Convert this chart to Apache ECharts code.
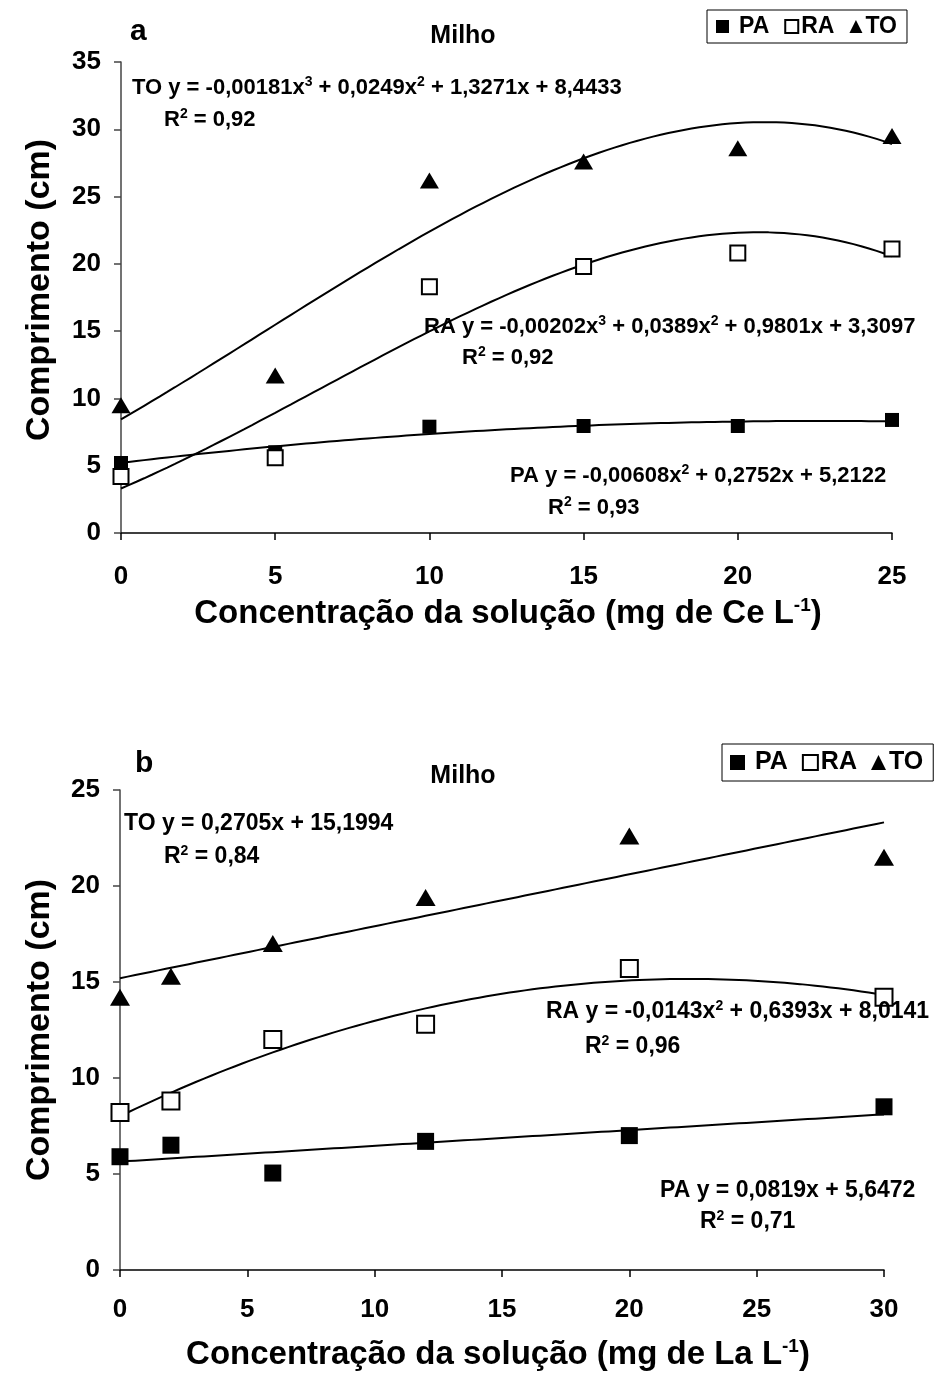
<!DOCTYPE html>
<html>
<head>
<meta charset="utf-8">
<script src="https://cdn.jsdelivr.net/npm/echarts@6/dist/echarts.min.js"></script>
<style>html,body{margin:0;padding:0;background:#fff}#c{width:938px;height:1376px}</style>
</head>
<body>
<div id="c"></div>
<script>
// ---- Panel a: Ce ----
const ceX = [0, 5, 10, 15, 20, 25];
const cePA = [5.2, 6.0, 7.9, 7.95, 7.95, 8.4];
const ceRA = [4.2, 5.6, 18.3, 19.8, 20.8, 21.1];
const ceTO = [9.5, 11.7, 26.2, 27.6, 28.6, 29.5];
// trendline coefficients (c0, c1, c2, c3) as printed on the chart
const ceTrendPA = [5.2122, 0.2752, -0.00608];
const ceTrendRA = [3.3097, 0.9801, 0.0389, -0.00202];
const ceTrendTO = [8.4433, 1.3271, 0.0249, -0.00181];
const ceYTicks = [0, 5, 10, 15, 20, 25, 30, 35];
const ceXTicks = [0, 5, 10, 15, 20, 25];

// ---- Panel b: La ----
const laX = [0, 2, 6, 12, 20, 30];
const laPA = [5.9, 6.5, 5.05, 6.7, 7.0, 8.5];
const laRA = [8.2, 8.8, 12.0, 12.8, 15.7, 14.2];
const laTO = [14.2, 15.3, 17.0, 19.4, 22.6, 21.5];
const laTrendPA = [5.6472, 0.0819];
const laTrendRA = [8.0141, 0.6393, -0.0143];
const laTrendTO = [15.1994, 0.2705];
const laYTicks = [0, 5, 10, 15, 20, 25];
const laXTicks = [0, 5, 10, 15, 20, 25, 30];

function poly(c, x) { let s = 0; for (let i = 0; i < c.length; i++) s += c[i] * Math.pow(x, i); return s; }
function curve(c, x0, x1) { const pts = []; const n = 100; for (let i = 0; i <= n; i++) { const x = x0 + (x1 - x0) * i / n; pts.push([x, poly(c, x)]); } return pts; }
function pairs(xs, ys) { return xs.map((x, i) => [x, ys[i]]); }

const FONT = '"Liberation Sans", Arial, sans-serif';
const rich = {
  a: { fontFamily: FONT, fontWeight: 'bold', fontSize: 22, color: '#000' },
  s: { fontFamily: FONT, fontWeight: 'bold', fontSize: 14, color: '#000', padding: [0, 0, 11, 0] },
  b: { fontFamily: FONT, fontWeight: 'bold', fontSize: 23, color: '#000' },
  bs: { fontFamily: FONT, fontWeight: 'bold', fontSize: 14, color: '#000', padding: [0, 0, 12, 0] },
  n: { fontFamily: FONT, fontWeight: 'bold', fontSize: 33, color: '#000' },
  ns: { fontFamily: FONT, fontWeight: 'bold', fontSize: 19, color: '#000', padding: [0, 0, 16, 0] }
};
function plain(x, y, text, size, align) {
  return { type: 'text', x: x, y: y, style: { text: text, fontFamily: FONT, fontWeight: 'bold', fontSize: size, fill: '#000', align: align || 'left', verticalAlign: 'middle' }, z: 100 };
}
function rtxt(x, y, text, align) {
  return { type: 'text', x: x, y: y, style: { text: text, rich: rich, align: align || 'left', verticalAlign: 'middle' }, z: 100 };
}
function vtitle(x, y, text) {
  return { type: 'text', x: x, y: y, rotation: Math.PI / 2, style: { text: text, fontFamily: FONT, fontWeight: 'bold', fontSize: 34, fill: '#000', align: 'center', verticalAlign: 'middle' }, z: 100 };
}

const axisLabelStyle = { fontFamily: FONT, fontWeight: 'bold', fontSize: 26, color: '#000' };
function xAxis(gi, max, ticks, margin) {
  return { type: 'value', gridIndex: gi, min: 0, max: max, interval: 5,
    axisLine: { show: true, onZero: false, lineStyle: { color: '#000', width: 1.5 } },
    axisTick: { show: true, inside: false, length: 7, lineStyle: { color: '#000', width: 1.5 } },
    axisLabel: Object.assign({ margin: margin, formatter: v => ticks.includes(v) ? String(v) : '' }, axisLabelStyle),
    splitLine: { show: false } };
}
function yAxis(gi, max, ticks) {
  return { type: 'value', gridIndex: gi, min: 0, max: max, interval: 5,
    axisLine: { show: true, onZero: false, lineStyle: { color: '#444', width: 1.5 } },
    axisTick: { show: true, inside: false, length: 7, lineStyle: { color: '#444', width: 1.5 } },
    axisLabel: Object.assign({ margin: 20, formatter: v => ticks.includes(v) ? String(v) : '' }, axisLabelStyle),
    splitLine: { show: false } };
}

function scatter(name, gi, data, kind, size) {
  const s = { type: 'scatter', name: name, xAxisIndex: gi, yAxisIndex: gi, data: data, symbolSize: size, z: 10 };
  if (kind === 'PA') { s.symbol = 'rect'; s.itemStyle = { color: '#000', opacity: 1 }; }
  if (kind === 'RA') { s.symbol = 'rect'; s.itemStyle = { color: '#fff', borderColor: '#000', borderWidth: 2, opacity: 1 }; s.symbolSize = size - 2; }
  if (kind === 'TO') { s.symbol = 'triangle'; s.itemStyle = { color: '#000', opacity: 1 }; s.symbolSize = [size + 3, size]; }
  return s;
}
function trend(gi, data) {
  return { type: 'line', xAxisIndex: gi, yAxisIndex: gi, data: data, showSymbol: false, symbol: 'none', smooth: false,
    lineStyle: { color: '#000', width: 2 }, z: 5, silent: true };
}

function legend(left, top, fs, icon, gap, pad) {
  return {
    orient: 'horizontal', left: left, top: top, borderColor: '#000', borderWidth: 1, padding: pad, itemGap: gap,
    itemWidth: icon, itemHeight: icon, backgroundColor: '#fff',
    formatter: n => n === 'PA' ? '{p|PA}' : '{q|' + n + '}',
    textStyle: { fontFamily: FONT, fontWeight: 'bold', fontSize: fs, color: '#000',
      rich: { p: { fontFamily: FONT, fontWeight: 'bold', fontSize: fs, color: '#000', padding: [0, 0, 0, 5] },
              q: { fontFamily: FONT, fontWeight: 'bold', fontSize: fs, color: '#000', padding: [0, 0, 0, -2] } } },
    data: [
      { name: 'PA', icon: 'rect' },
      { name: 'RA', icon: 'rect' },
      { name: 'TO', icon: 'triangle' }
    ]
  };
}

const chart = echarts.init(document.getElementById('c'), null, { renderer: 'canvas' });
chart.setOption({
  animation: false,
  backgroundColor: '#fff',
  grid: [
    { left: 121, top: 62, width: 771, height: 471 },
    { left: 120, top: 790, width: 764, height: 480 }
  ],
  xAxis: [xAxis(0, 25, ceXTicks, 31), xAxis(1, 30, laXTicks, 27)],
  yAxis: [yAxis(0, 35, ceYTicks), yAxis(1, 25, laYTicks)],
  legend: [
    legend(707, 10, 23, 13, 15, [5, 10, 5, 9]),
    legend(722, 744, 25, 15, 14, [6, 10, 6, 8])
  ],
  series: [
    trend(0, curve(ceTrendPA, 0, 25)),
    trend(0, curve(ceTrendRA, 0, 25)),
    trend(0, curve(ceTrendTO, 0, 25)),
    scatter('PA', 0, pairs(ceX, cePA), 'PA', 14),
    scatter('RA', 0, pairs(ceX, ceRA), 'RA', 17),
    scatter('TO', 0, pairs(ceX, ceTO), 'TO', 16),
    trend(1, curve(laTrendPA, 0, 30)),
    trend(1, curve(laTrendRA, 0, 30)),
    trend(1, curve(laTrendTO, 0, 30)),
    scatter('PA', 1, pairs(laX, laPA), 'PA', 17),
    scatter('RA', 1, pairs(laX, laRA), 'RA', 19),
    scatter('TO', 1, pairs(laX, laTO), 'TO', 17)
  ],
  graphic: [
    plain(130, 32, 'a', 30),
    plain(463, 36, 'Milho', 25, 'center'),
    rtxt(132, 88, '{a|TO y = -0,00181x}{s|3}{a| + 0,0249x}{s|2}{a| + 1,3271x + 8,4433}'),
    rtxt(164, 120, '{a|R}{s|2}{a| = 0,92}'),
    rtxt(424, 327, '{a|RA y = -0,00202x}{s|3}{a| + 0,0389x}{s|2}{a| + 0,9801x + 3,3097}'),
    rtxt(462, 358, '{a|R}{s|2}{a| = 0,92}'),
    rtxt(510, 476, '{a|PA y = -0,00608x}{s|2}{a| + 0,2752x + 5,2122}'),
    rtxt(548, 508, '{a|R}{s|2}{a| = 0,93}'),
    vtitle(40, 290, 'Comprimento (cm)'),
    rtxt(508, 614, '{n|Concentração da solução (mg de Ce L}{ns|-1}{n|)}', 'center'),

    plain(135, 764, 'b', 30),
    plain(463, 776, 'Milho', 25, 'center'),
    rtxt(124, 824, '{b|TO y = 0,2705x + 15,1994}'),
    rtxt(164, 857, '{b|R}{bs|2}{b| = 0,84}'),
    rtxt(546, 1012, '{b|RA y = -0,0143x}{bs|2}{b| + 0,6393x + 8,0141}'),
    rtxt(585, 1047, '{b|R}{bs|2}{b| = 0,96}'),
    rtxt(660, 1191, '{b|PA y = 0,0819x + 5,6472}'),
    rtxt(700, 1222, '{b|R}{bs|2}{b| = 0,71}'),
    vtitle(40, 1030, 'Comprimento (cm)'),
    rtxt(498, 1355, '{n|Concentração da solução (mg de La L}{ns|-1}{n|)}', 'center')
  ]
});
</script>
</body>
</html>
